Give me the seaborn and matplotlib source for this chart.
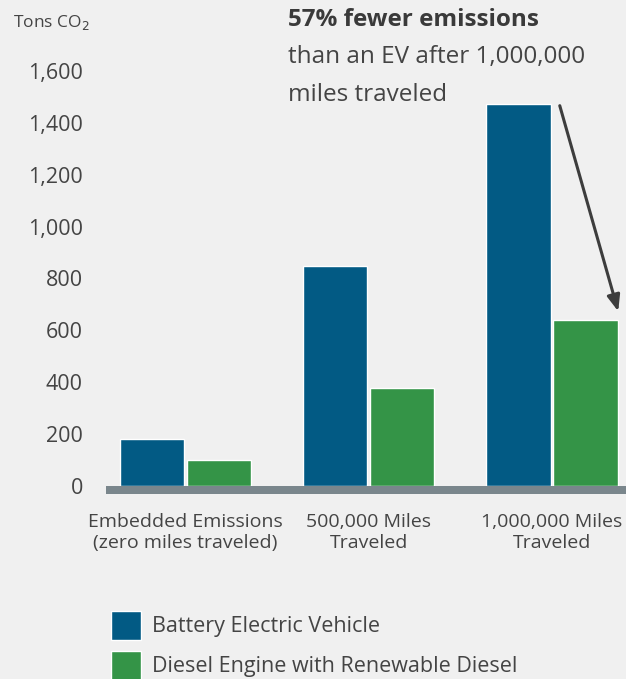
import pandas as pd
import numpy as np
import matplotlib.pyplot as plt
import seaborn as sns
from matplotlib.patches import Patch

# --- data ---
stages = ["Embedded Emissions\n(zero miles traveled)", "500,000 Miles\nTraveled", "1,000,000 Miles\nTraveled"]
vehicles = ["Battery Electric Vehicle", "Diesel Engine with Renewable Diesel"]
bev_tons = [180, 847, 1474]
diesel_tons = [99, 377, 640]
yticks = [0, 200, 400, 600, 800, 1000, 1200, 1400, 1600]

df = pd.DataFrame({
    "stage": stages * 2,
    "vehicle": [vehicles[0]] * 3 + [vehicles[1]] * 3,
    "tons": bev_tons + diesel_tons,
})

# --- style ---
bg = "#f0f0f0"
blue = "#025a84"
green = "#349447"
text_c = "#444444"
sns.set_theme(style="white")
plt.rcParams["font.family"] = ["Open Sans", "DejaVu Sans"]

fig = plt.figure(figsize=(6.26, 6.79), dpi=100, facecolor=bg)
ax = fig.add_axes([0.1689, 0.2725, 0.8311, 0.6613])
ax.set_facecolor(bg)

sns.barplot(data=df, x="stage", y="tons", hue="vehicle", palette=[blue, green],
            width=0.73, gap=0.04, saturation=1, ax=ax, legend=False)

ax.set_xlim(-0.434, 2.404)
ax.set_ylim(-31, 1700)
ax.axhspan(-31, 0, color="#7a868c", lw=0)
for s in ax.spines.values():
    s.set_visible(False)

ax.set_yticks(yticks)
ax.set_yticklabels([f"{v:,}" for v in yticks], fontsize=15.5, color=text_c)
ax.tick_params(axis="y", length=0, pad=16.5)
ax.tick_params(axis="x", length=0, pad=14, labelsize=14, labelcolor=text_c)
for lab in ax.get_xticklabels():
    lab.set_linespacing(1.15)
ax.set_xlabel("")
ax.set_ylabel("")

# axis title
fig.text(13 / 626, 1 - 22 / 679, "Tons CO$_2$", fontsize=12.5, color=text_c, va="center")

# callout
fig.text(288 / 626, 1 - 20 / 679, "57% fewer emissions", fontsize=17.5,
         fontweight="bold", color="#3a3a3a", va="center")
fig.text(288 / 626, 1 - 57 / 679, "than an EV after 1,000,000", fontsize=17.5,
         color=text_c, va="center")
fig.text(288 / 626, 1 - 95 / 679, "miles traveled", fontsize=17.5,
         color=text_c, va="center")
ax.annotate("", xy=(619 / 626, 1 - 314 / 679), xycoords="figure fraction",
            xytext=(559 / 626, 1 - 103 / 679), textcoords="figure fraction",
            arrowprops=dict(arrowstyle="-|>,head_length=0.8,head_width=0.32",
                            color="#3d3d3d", lw=2.2))

# legend
handles = [Patch(facecolor=blue), Patch(facecolor=green)]
fig.legend(handles, vehicles, loc="upper left", bbox_to_anchor=(100 / 626, 1 - 600 / 679),
           frameon=False, fontsize=15.5, labelcolor=text_c, handlelength=1.4,
           handleheight=1.7, handletextpad=0.5, labelspacing=0.5, borderpad=0)

plt.savefig("out.png", dpi=100, facecolor=bg)
plt.close()
